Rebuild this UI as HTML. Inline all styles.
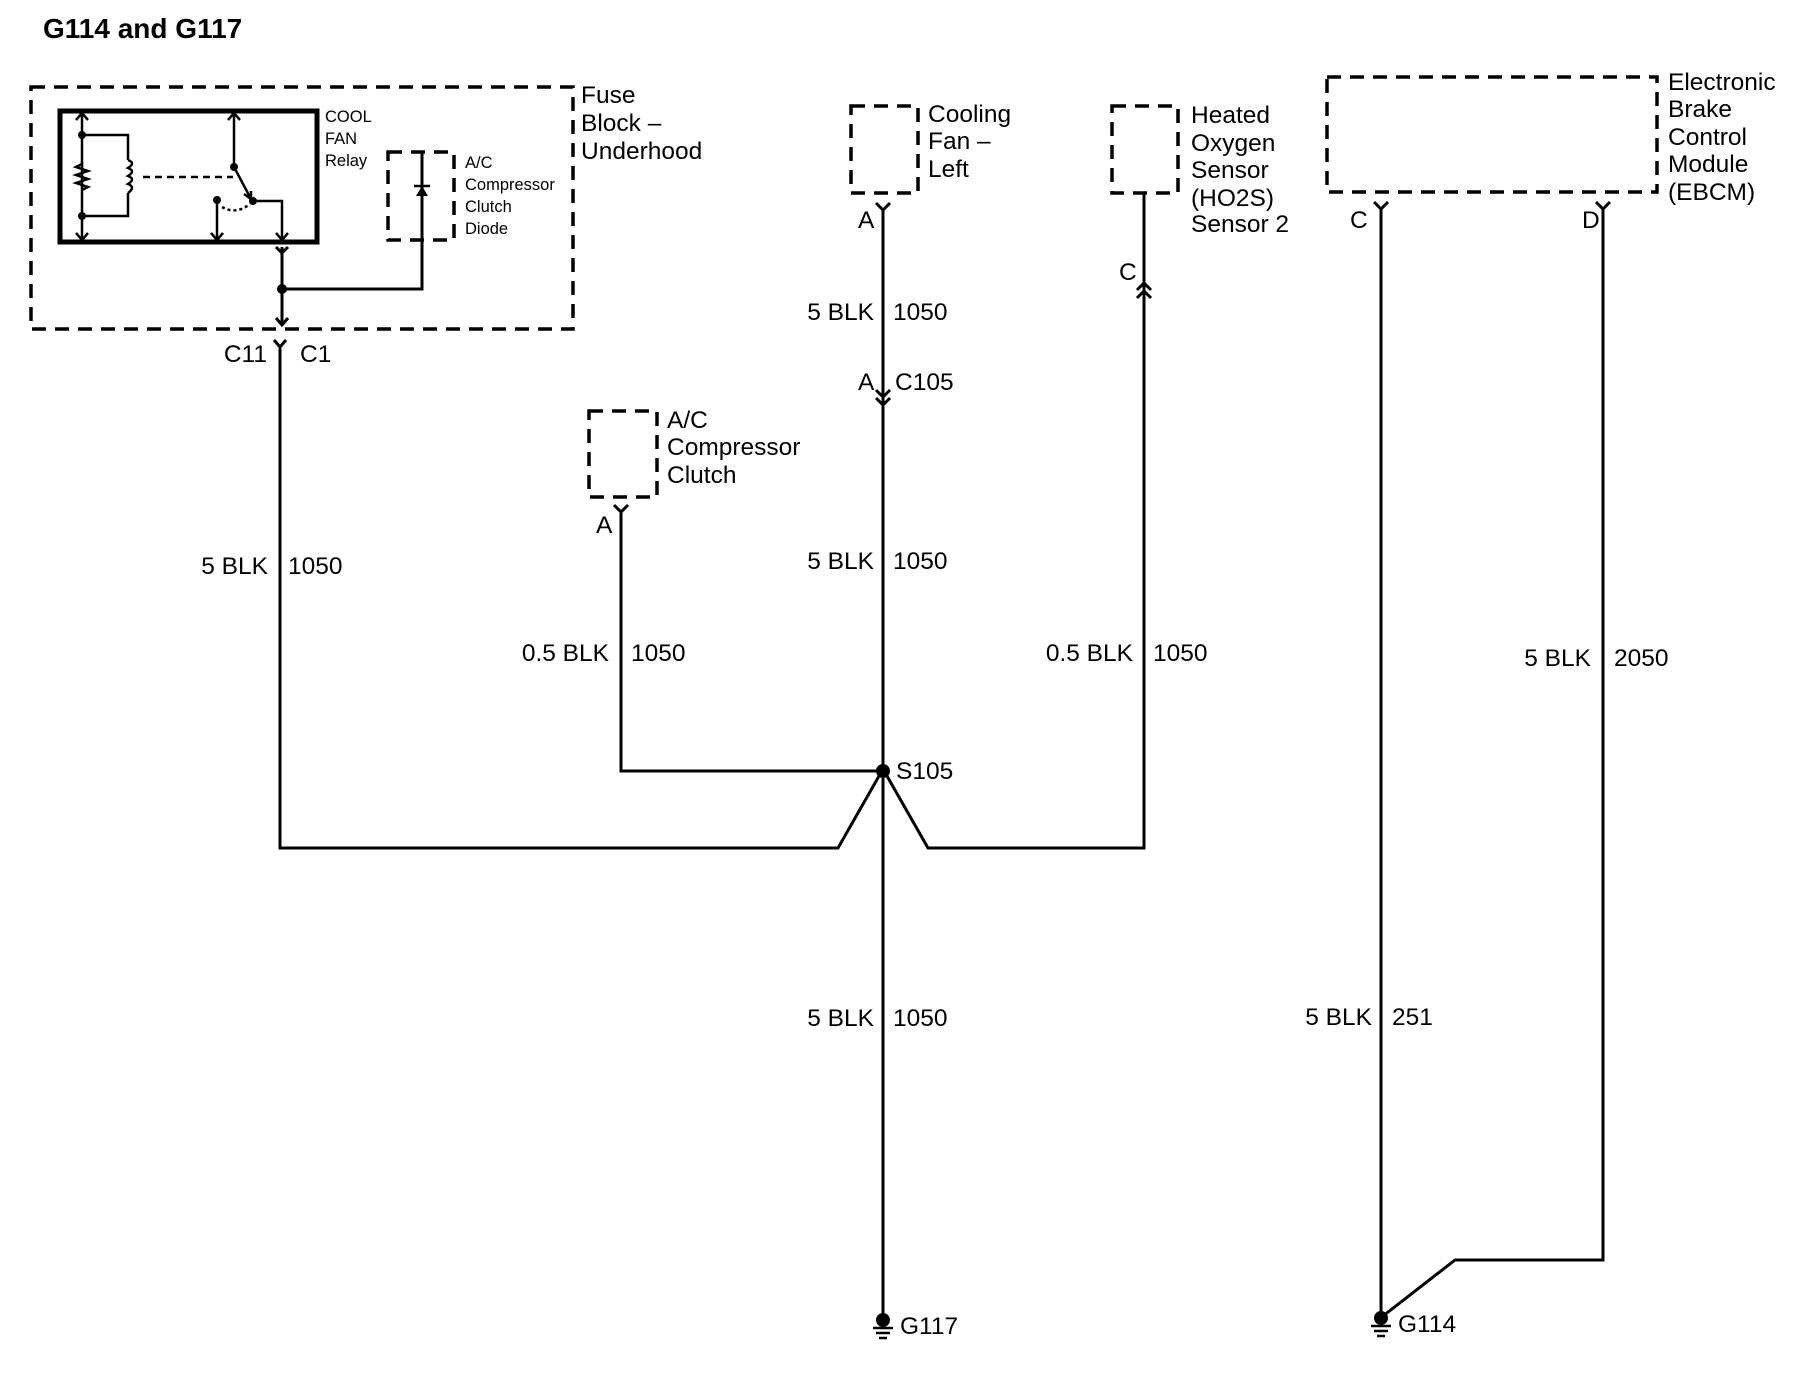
<!DOCTYPE html>
<html><head><meta charset="utf-8"><style>
html,body{margin:0;padding:0;background:#fff}
svg{display:block}
text{font-family:"Liberation Sans",Arial,sans-serif;fill:#000}
.l{font-size:24.5px}
.s{font-size:16.5px}
</style></head><body>
<svg width="1804" height="1392" viewBox="0 0 1804 1392" xmlns="http://www.w3.org/2000/svg">
<g stroke="#000" fill="none">
<g stroke-width="3.5" stroke-dasharray="14,9">
<rect x="31" y="87" width="542" height="242"/>
<rect x="388" y="152" width="66" height="88"/>
<rect x="851" y="106" width="67" height="87"/>
<rect x="1112" y="106" width="66" height="87"/>
<rect x="589" y="411" width="68" height="86"/>
<rect x="1327" y="77" width="330" height="115"/>
</g>
<rect x="60" y="111" width="257" height="131" stroke-width="5"/>
<g stroke-width="2.5">
<line x1="82" y1="113" x2="82" y2="240"/>
<polyline points="76,120 82,113 88,120"/><polyline points="76,233 82,240 88,233"/>
<polyline points="82,135 128,135 128,160"/><polyline points="82,216 128,216 128,193"/>
<path d="M128,160 q8,3 0,8 q8,3 0,8 q8,3 0,8 q8,3 0,9"/>
<polyline points="82,162 82,164 76,167 88,171 76,175 88,179 76,183 88,187 82,190"/>
<line x1="143" y1="177" x2="233" y2="177" stroke-dasharray="7,5"/>
<line x1="234" y1="113" x2="234" y2="167"/>
<polyline points="228,120 234,113 240,120"/>
<line x1="234" y1="167" x2="251" y2="199"/>
<polyline points="244,194 251,199 251,191"/>
<polyline points="253,201 282,201 282,240"/>
<polyline points="276,233 282,240 288,233"/>
<line x1="217" y1="200" x2="217" y2="240"/>
<polyline points="211,233 217,240 223,233"/>
<path d="M222,207 q14,8 28,-3" stroke-dasharray="3,3"/>
</g>
<g fill="#000" stroke="none">
<circle cx="82" cy="135" r="4"/><circle cx="82" cy="216" r="4"/>
<circle cx="234" cy="167" r="4"/><circle cx="217" cy="200" r="4"/><circle cx="253" cy="201" r="4"/>
</g>
<g stroke-width="3">
<polyline points="276,247 282,253 288,247"/>
<line x1="282" y1="247" x2="282" y2="325"/>
<polyline points="276,318 282,325 288,318"/>
<polyline points="282,289 422,289 422,152"/>
<line x1="422" y1="152" x2="422" y2="240"/>
<polyline points="274,340 280,347 286,340"/>
<polyline points="280,347 280,848 838,848 883,769 928,848 1144,848 1144,283"/>
<polyline points="1137,290 1144,283 1151,290"/><polyline points="1137,298 1144,291 1151,298"/>
<line x1="1144" y1="193" x2="1144" y2="283"/>
<polyline points="876,203 883,210 890,203"/>
<line x1="883" y1="210" x2="883" y2="1320"/>
<polyline points="876,390 883,397 890,390"/>
<polyline points="876,398 883,405 890,398"/>
<polyline points="614,505 621,512 628,505"/>
<polyline points="621,512 621,771 883,771"/>
<polyline points="1374,202 1381,209 1388,202"/>
<line x1="1381" y1="209" x2="1381" y2="1318"/>
<polyline points="1596,202 1603,209 1610,202"/>
<polyline points="1603,209 1603,1260 1455,1260 1383,1316"/>
</g>
<polygon points="416,196 428,196 422,186" fill="#000" stroke="none"/>
<line x1="414" y1="186" x2="430" y2="186" stroke-width="2.5"/>
<g fill="#000" stroke="none">
<circle cx="282" cy="289" r="5"/>
<circle cx="883" cy="771" r="7"/>
<circle cx="883" cy="1320" r="7"/>
<circle cx="1381" cy="1318" r="7"/>
</g>
<g stroke-width="2.5">
<line x1="873" y1="1328" x2="893" y2="1328"/><line x1="876" y1="1333" x2="890" y2="1333"/><line x1="879" y1="1338" x2="887" y2="1338"/>
<line x1="1371" y1="1326" x2="1391" y2="1326"/><line x1="1374" y1="1331" x2="1388" y2="1331"/><line x1="1377" y1="1336" x2="1385" y2="1336"/>
</g>
</g>
<text x="43" y="38" style="font-size:28px;font-weight:bold">G114 and G117</text>
<text class="s" x="325" y="122">COOL</text><text class="s" x="325" y="144">FAN</text><text class="s" x="325" y="166">Relay</text>
<text class="s" x="465" y="168">A/C</text><text class="s" x="465" y="190">Compressor</text><text class="s" x="465" y="212">Clutch</text><text class="s" x="465" y="234">Diode</text>
<text class="l" x="581" y="103">Fuse</text><text class="l" x="581" y="131">Block –</text><text class="l" x="581" y="159">Underhood</text>
<text class="l" x="267" y="362" text-anchor="end">C11</text><text class="l" x="300" y="362">C1</text>
<text class="l" x="268" y="574" text-anchor="end">5 BLK</text><text class="l" x="288" y="574">1050</text>
<text class="l" x="928" y="122">Cooling</text><text class="l" x="928" y="149">Fan –</text><text class="l" x="928" y="177">Left</text>
<text class="l" x="858" y="228">A</text>
<text class="l" x="874" y="320" text-anchor="end">5 BLK</text><text class="l" x="893" y="320">1050</text>
<text class="l" x="858" y="390">A</text><text class="l" x="895" y="390">C105</text>
<text class="l" x="874" y="569" text-anchor="end">5 BLK</text><text class="l" x="893" y="569">1050</text>
<text class="l" x="896" y="779">S105</text>
<text class="l" x="874" y="1026" text-anchor="end">5 BLK</text><text class="l" x="893" y="1026">1050</text>
<text class="l" x="900" y="1334">G117</text>
<text class="l" x="667" y="428">A/C</text><text class="l" x="667" y="455">Compressor</text><text class="l" x="667" y="483">Clutch</text>
<text class="l" x="596" y="533">A</text>
<text class="l" x="609" y="661" text-anchor="end">0.5 BLK</text><text class="l" x="631" y="661">1050</text>
<text class="l" x="1191" y="123">Heated</text><text class="l" x="1191" y="151">Oxygen</text><text class="l" x="1191" y="178">Sensor</text><text class="l" x="1191" y="206">(HO2S)</text><text class="l" x="1191" y="232">Sensor 2</text>
<text class="l" x="1119" y="280">C</text>
<text class="l" x="1133" y="661" text-anchor="end">0.5 BLK</text><text class="l" x="1153" y="661">1050</text>
<text class="l" x="1668" y="90">Electronic</text><text class="l" x="1668" y="117">Brake</text><text class="l" x="1668" y="145">Control</text><text class="l" x="1668" y="172">Module</text><text class="l" x="1668" y="200">(EBCM)</text>
<text class="l" x="1350" y="228">C</text><text class="l" x="1582" y="228">D</text>
<text class="l" x="1591" y="666" text-anchor="end">5 BLK</text><text class="l" x="1614" y="666">2050</text>
<text class="l" x="1372" y="1025" text-anchor="end">5 BLK</text><text class="l" x="1392" y="1025">251</text>
<text class="l" x="1398" y="1332">G114</text>
</svg>
</body></html>
